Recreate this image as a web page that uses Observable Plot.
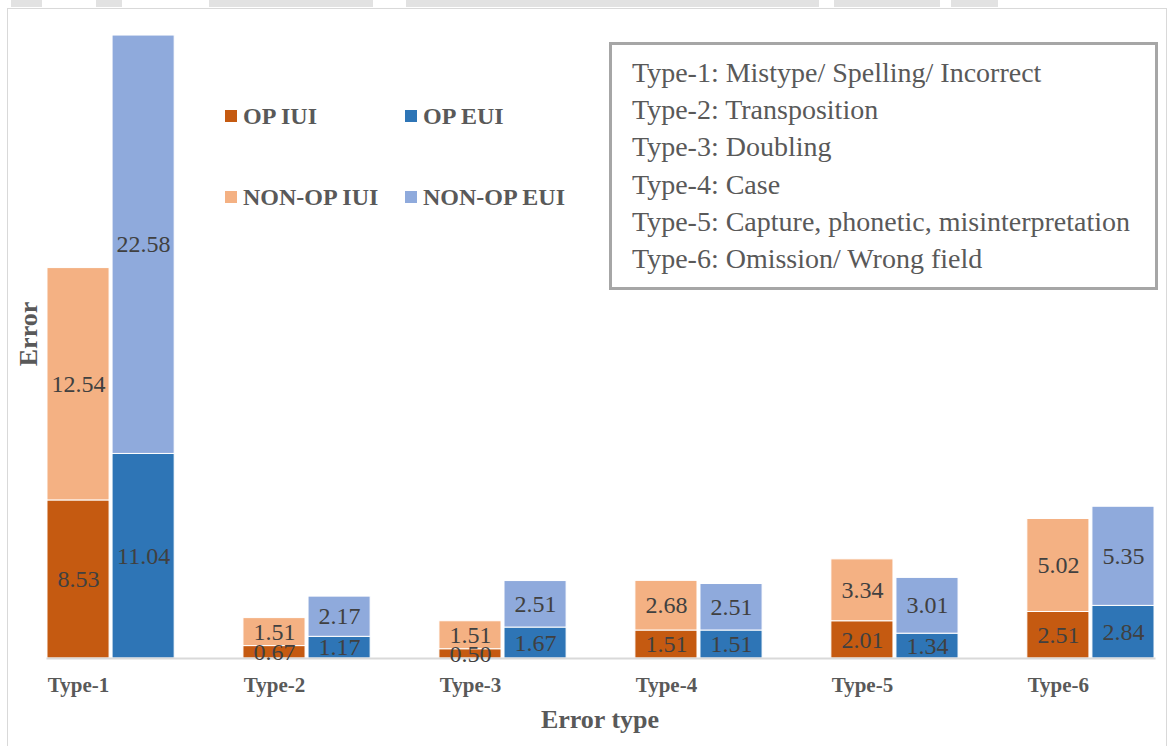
<!DOCTYPE html>
<html>
<head>
<meta charset="utf-8">
<script src="https://cdn.jsdelivr.net/npm/d3@7"></script>
<script src="https://cdn.jsdelivr.net/npm/@observablehq/plot@0.6"></script>
<style>
  body { margin: 0; background: #fff; }
  #wrap { position: relative; width: 1173px; height: 746px; overflow: hidden; font-family: "Liberation Serif", "Times New Roman", serif; }
  #wrap svg { position: absolute; left: 0; top: 0; }
  .strip { position: absolute; top: 0; height: 7px; background: #e2e2e2; }
  #frame { position: absolute; left: 7px; top: 8px; width: 1160px; height: 760px; border: 1.5px solid #d9d9d9; box-sizing: border-box; }
  .leg { position: absolute; display: flex; align-items: center; font-weight: bold; font-size: 24px; color: #595959; white-space: nowrap; }
  .leg i { display: inline-block; width: 12px; height: 12px; margin-right: 6px; }
  #defs { position: absolute; left: 609px; top: 42px; width: 549px; height: 248px; border: 3.5px solid #a6a6a6; box-sizing: border-box; background: #fff; padding: 9px 0 0 20px; color: #595959; font-size: 28px; line-height: 37.2px; white-space: nowrap; }
  .title { position: absolute; font-weight: bold; font-size: 26px; color: #595959; white-space: nowrap; }
</style>
</head>
<body>
<div id="wrap">
  <div id="chart"></div>
</div>
<script>
// Error counts per error type, split by operator (OP) / non-operator (NON-OP)
// and by interface group (IUI / EUI)
const types = ["Type-1", "Type-2", "Type-3", "Type-4", "Type-5", "Type-6"];
const opIUI = [8.53, 0.67, 0.50, 1.51, 2.01, 2.51];
const nonOpIUI = [12.54, 1.51, 1.51, 2.68, 3.34, 5.02];
const opEUI = [11.04, 1.17, 1.67, 1.51, 1.34, 2.84];
const nonOpEUI = [22.58, 2.17, 2.51, 2.51, 3.01, 5.35];

const seriesNames = ["OP IUI", "OP EUI", "NON-OP IUI", "NON-OP EUI"];
const seriesColors = ["#C55A11", "#2E75B6", "#F4B183", "#8FAADC"];

const definitions = [
  "Type-1: Mistype/ Spelling/ Incorrect",
  "Type-2: Transposition",
  "Type-3: Doubling",
  "Type-4: Case",
  "Type-5: Capture, phonetic, misinterpretation",
  "Type-6: Omission/ Wrong field"
];

// Long-format rows: OP stacked first (bottom), NON-OP on top
const rows = [];
types.forEach((t, i) => {
  rows.push({type: t, group: "IUI", series: "OP IUI", value: opIUI[i]});
  rows.push({type: t, group: "IUI", series: "NON-OP IUI", value: nonOpIUI[i]});
  rows.push({type: t, group: "EUI", series: "OP EUI", value: opEUI[i]});
  rows.push({type: t, group: "EUI", series: "NON-OP EUI", value: nonOpEUI[i]});
});

const serif = "'Liberation Serif', 'Times New Roman', serif";

const chart = Plot.plot({
  width: 1173,
  height: 746,
  marginLeft: 46,
  marginRight: 18,
  marginTop: 28,
  marginBottom: 88,
  style: {background: "transparent", fontFamily: serif},
  fx: {domain: types, paddingInner: 0.351, paddingOuter: 0.005, round: false, axis: null, label: null},
  x: {domain: ["IUI", "EUI"], paddingInner: 0.046, paddingOuter: 0, round: false, axis: null},
  y: {domain: [0, 34], axis: null},
  color: {domain: seriesNames, range: seriesColors},
  marks: [
    Plot.barY(rows, {fx: "type", x: "group", y: "value", fill: "series", stroke: "#ffffff", strokeWidth: 1}),
    // category axis line along the bottom of the whole plot area
    Plot.frame({anchor: "bottom", facet: "super", stroke: "#d9d9d9", strokeWidth: 2}),
    Plot.text(rows, Plot.stackY({
      fx: "type", x: "group", y: "value",
      text: d => d.value.toFixed(2),
      fill: "#404040", fontSize: 24, fontFamily: serif
    })),
    Plot.text(types, {
      fx: d => d, x: () => "IUI", y: () => 0, text: d => d,
      dy: 27, fill: "#595959", fontSize: 21, fontWeight: "bold", fontFamily: serif
    })
  ]
});
const wrap = document.getElementById("wrap");
document.getElementById("chart").appendChild(chart);

// faint strip along the top edge
[[11, 31], [96, 26], [209, 164], [406, 413], [834, 106], [951, 47]].forEach(([l, w]) => {
  const s = document.createElement("div");
  s.className = "strip";
  s.style.left = l + "px";
  s.style.width = w + "px";
  wrap.appendChild(s);
});

const frame = document.createElement("div");
frame.id = "frame";
wrap.appendChild(frame);

// Legend (two rows, two columns)
const legendPos = [[225, 116], [405, 116], [225, 197], [405, 197]];
seriesNames.forEach((name, i) => {
  const d = document.createElement("div");
  d.className = "leg";
  d.style.left = legendPos[i][0] + "px";
  d.style.top = (legendPos[i][1] - 15) + "px";
  d.style.height = "30px";
  const sw = document.createElement("i");
  sw.style.background = seriesColors[i];
  d.appendChild(sw);
  d.appendChild(document.createTextNode(name));
  wrap.appendChild(d);
});

// Definitions box
const box = document.createElement("div");
box.id = "defs";
definitions.forEach(line => {
  const l = document.createElement("div");
  l.textContent = line;
  box.appendChild(l);
});
wrap.appendChild(box);

// Axis titles
const xt = document.createElement("div");
xt.className = "title";
xt.textContent = "Error type";
xt.style.left = "600px";
xt.style.top = "720px";
xt.style.transform = "translate(-50%, -50%)";
wrap.appendChild(xt);

const yt = document.createElement("div");
yt.className = "title";
yt.textContent = "Error";
yt.style.left = "29px";
yt.style.top = "334px";
yt.style.transform = "translate(-50%, -50%) rotate(-90deg)";
wrap.appendChild(yt);
</script>
</body>
</html>
